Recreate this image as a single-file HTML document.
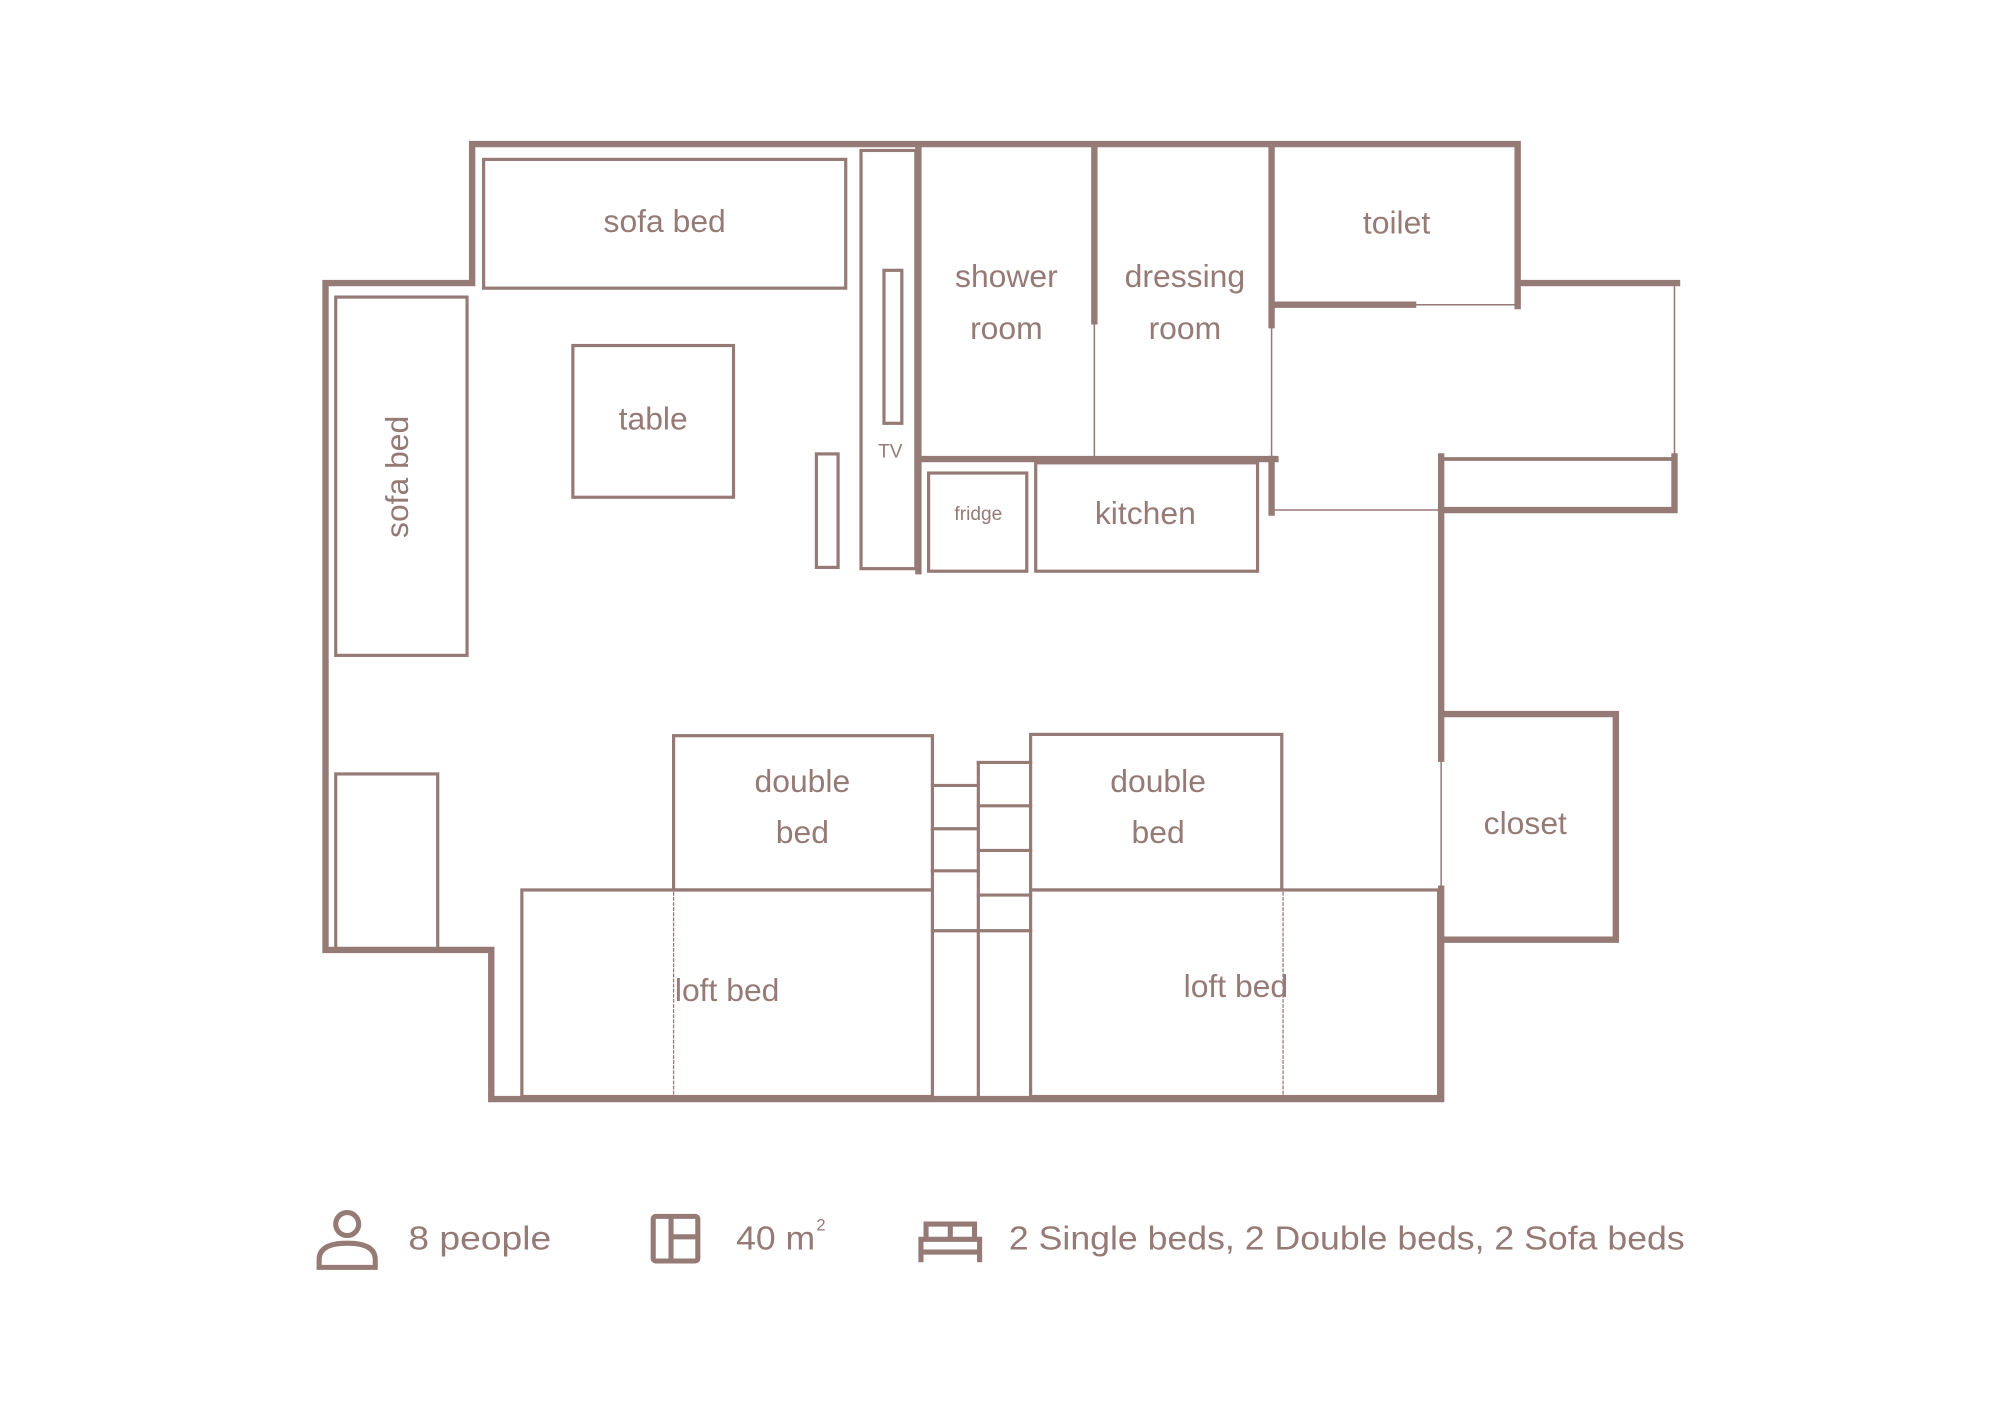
<!DOCTYPE html>
<html><head><meta charset="utf-8"><style>html,body{margin:0;padding:0;background:#fff}svg{display:block}</style></head>
<body>
<svg width="2000" height="1414" viewBox="0 0 1568 1109" xmlns="http://www.w3.org/2000/svg">
<g fill="none" stroke="#957a76" stroke-linecap="square">
<g stroke-width="5">
<polyline points="1190,240 1190,113 370,113 370,222 255,222 255,745 385,745 385,862 1130,862 1130,697"/>
<polyline points="1130,595 1130,358"/>
<polyline points="1130,400 1313,400 1313,358"/>
<polyline points="1130,560 1267,560 1267,737 1130,737"/>
<line x1="1192" y1="222" x2="1315" y2="222"/>
<line x1="720" y1="117" x2="720" y2="448"/>
<line x1="858" y1="117" x2="858" y2="252"/>
<line x1="997" y1="117" x2="997" y2="255"/>
<line x1="997" y1="360" x2="997" y2="402"/>
<line x1="720" y1="360" x2="1000" y2="360"/>
<line x1="998" y1="239" x2="1108" y2="239"/>
</g>
<g stroke-width="1.2">
<line x1="858" y1="252" x2="858" y2="358"/>
<line x1="997" y1="255" x2="997" y2="360"/>
<line x1="1108" y1="239" x2="1190" y2="239"/>
<line x1="1313" y1="222" x2="1313" y2="358"/>
<line x1="998" y1="400" x2="1130" y2="400"/>
<line x1="1130" y1="595" x2="1130" y2="697"/>
</g>
<line x1="1130" y1="360" x2="1313" y2="360" stroke-width="3"/>
<g stroke-width="2.5">
<rect x="675" y="118" width="43" height="328"/>
<rect x="693" y="212" width="14" height="120"/>
<rect x="640" y="356" width="17" height="89"/>
<rect x="379" y="125" width="284" height="101"/>
<rect x="263" y="233" width="103" height="281"/>
<rect x="449" y="271" width="126" height="119"/>
<rect x="728" y="371" width="77" height="77"/>
<rect x="812" y="363" width="174" height="85"/>
<rect x="263" y="607" width="80" height="138"/>
<rect x="528" y="577" width="203" height="121"/>
<rect x="808" y="576" width="197" height="122"/>
<rect x="409" y="698" width="322" height="162"/>
<rect x="808" y="698" width="320" height="162"/>
<line x1="767" y1="598" x2="767" y2="860"/>
<line x1="731" y1="616" x2="767" y2="616"/>
<line x1="731" y1="650" x2="767" y2="650"/>
<line x1="731" y1="683" x2="767" y2="683"/>
<line x1="731" y1="730" x2="767" y2="730"/>
<line x1="767" y1="598" x2="808" y2="598"/>
<line x1="767" y1="632" x2="808" y2="632"/>
<line x1="767" y1="667" x2="808" y2="667"/>
<line x1="767" y1="702" x2="808" y2="702"/>
<line x1="767" y1="730" x2="808" y2="730"/>
</g>
<g stroke-width="1" stroke-dasharray="2,2">
<line x1="528" y1="700" x2="528" y2="858"/>
<line x1="1006" y1="700" x2="1006" y2="858"/>
</g>
</g>
<g fill="#957a76" font-family="Liberation Sans, sans-serif" font-size="25" text-anchor="middle">
<text x="521" y="182">sofa bed</text>
<text x="512" y="337">table</text>
<text x="313" y="374" transform="rotate(-90 313 374)" dominant-baseline="middle">sofa bed</text>
<text x="789" y="225">shower</text>
<text x="789" y="266">room</text>
<text x="929" y="225">dressing</text>
<text x="929" y="266">room</text>
<text x="1095" y="183">toilet</text>
<text x="898" y="411">kitchen</text>
<text x="767" y="408" font-size="15">fridge</text>
<text x="698" y="359" font-size="15">TV</text>
<text x="629" y="621">double</text>
<text x="629" y="661">bed</text>
<text x="908" y="621">double</text>
<text x="908" y="661">bed</text>
<text x="570" y="785">loft bed</text>
<text x="969" y="782">loft bed</text>
<text x="1196" y="654">closet</text>
</g>
<g fill="#957a76" font-family="Liberation Sans, sans-serif" font-size="26">
<text x="320" y="980" textLength="112" lengthAdjust="spacingAndGlyphs">8 people</text>
<text x="577" y="980" textLength="62" lengthAdjust="spacingAndGlyphs">40 m</text>
<text x="640" y="965" font-size="13">2</text>
<text x="791" y="980" textLength="530" lengthAdjust="spacingAndGlyphs">2 Single beds, 2 Double beds, 2 Sofa beds</text>
</g>
<g fill="none" stroke="#957a76" stroke-width="4">
<circle cx="272" cy="960" r="9"/>
<path d="M250,994 V988 Q250,975 272,975 Q294,975 294,988 V994 Z"/>
<rect x="512" y="954" width="35" height="35" rx="2"/>
<line x1="526" y1="954" x2="526" y2="989"/>
<line x1="526" y1="970" x2="547" y2="970"/>
<path d="M722,990 V972 H768 V990 M722,982 H768 M726,972 V960 H764 V972 M745,960 V972"/>
</g>
</svg>
</body></html>
